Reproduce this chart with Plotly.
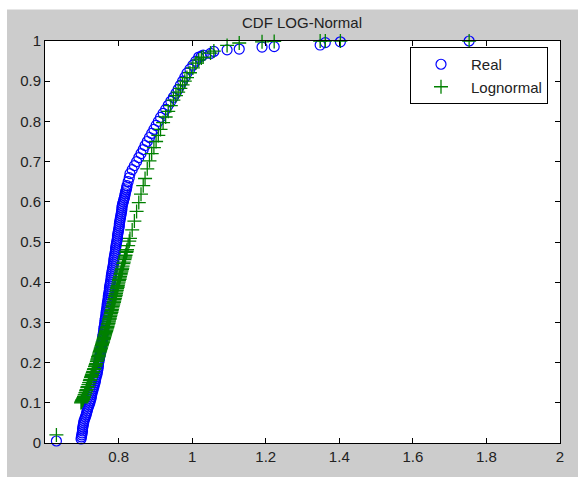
import plotly.graph_objects as go

# Sorted sample values (x) shared by both series
sample_x = [
    0.631,
    0.698, 0.699, 0.700, 0.701, 0.702, 0.702, 0.703, 0.704, 0.705, 0.706,
    0.708, 0.710, 0.712, 0.713, 0.715, 0.716, 0.718, 0.720, 0.722, 0.723,
    0.725, 0.726, 0.727, 0.728, 0.730, 0.731, 0.733, 0.734, 0.736, 0.737,
    0.738, 0.739, 0.741, 0.742, 0.743, 0.744, 0.745, 0.745, 0.746, 0.747,
    0.748, 0.749, 0.750, 0.751, 0.752, 0.752, 0.753, 0.754, 0.755, 0.756,
    0.757, 0.757, 0.758, 0.759, 0.760, 0.760, 0.761, 0.762, 0.763, 0.763,
    0.764, 0.765, 0.766, 0.766, 0.767, 0.768, 0.769, 0.769, 0.770, 0.771,
    0.772, 0.772, 0.773, 0.774, 0.775, 0.775, 0.776, 0.777, 0.778, 0.779,
    0.780, 0.780, 0.781, 0.782, 0.783, 0.784, 0.785, 0.786, 0.787, 0.787,
    0.788, 0.789, 0.790, 0.791, 0.792, 0.792, 0.793, 0.794, 0.795, 0.796,
    0.797, 0.797, 0.798, 0.799, 0.800, 0.801, 0.802, 0.802, 0.803, 0.804,
    0.805, 0.806, 0.807, 0.808, 0.809, 0.809, 0.810, 0.811, 0.813, 0.814,
    0.816, 0.817, 0.818, 0.819, 0.821, 0.822, 0.823,
    0.826, 0.829, 0.831, 0.837, 0.843, 0.849, 0.855, 0.861, 0.867, 0.872,
    0.878, 0.884, 0.890, 0.896, 0.902, 0.908, 0.914, 0.921, 0.928, 0.935,
    0.942, 0.949, 0.956, 0.962, 0.968, 0.974, 0.980, 0.986, 0.994, 1.002,
    1.010, 1.018,
    1.025, 1.030, 1.050, 1.059, 1.095, 1.128, 1.190, 1.223, 1.348, 1.362,
    1.403, 1.753,
]

# Empirical CDF ("Real")
real_cdf = [
    0.005,
    0.010, 0.015, 0.020, 0.025, 0.030, 0.035, 0.040, 0.045, 0.050, 0.055,
    0.060, 0.065, 0.070, 0.075, 0.080, 0.085, 0.090, 0.095, 0.100, 0.105,
    0.110, 0.115, 0.120, 0.125, 0.130, 0.135, 0.140, 0.145, 0.150, 0.155,
    0.160, 0.165, 0.170, 0.175, 0.180, 0.185, 0.190, 0.195, 0.200, 0.205,
    0.210, 0.215, 0.220, 0.225, 0.230, 0.235, 0.240, 0.245, 0.250, 0.255,
    0.260, 0.265, 0.270, 0.275, 0.280, 0.285, 0.290, 0.295, 0.300, 0.305,
    0.310, 0.315, 0.320, 0.325, 0.330, 0.335, 0.340, 0.345, 0.350, 0.355,
    0.360, 0.365, 0.370, 0.375, 0.380, 0.385, 0.390, 0.395, 0.400, 0.405,
    0.410, 0.415, 0.420, 0.425, 0.430, 0.435, 0.440, 0.445, 0.450, 0.455,
    0.460, 0.465, 0.470, 0.475, 0.480, 0.485, 0.490, 0.495, 0.500, 0.505,
    0.510, 0.515, 0.520, 0.525, 0.530, 0.535, 0.540, 0.545, 0.550, 0.555,
    0.560, 0.565, 0.570, 0.575, 0.580, 0.585, 0.590, 0.595, 0.600, 0.605,
    0.610, 0.615, 0.620, 0.625, 0.630, 0.635, 0.640,
    0.650, 0.660, 0.670, 0.680, 0.690, 0.700, 0.710, 0.720, 0.730, 0.740,
    0.750, 0.760, 0.770, 0.780, 0.790, 0.800, 0.810, 0.820, 0.830, 0.840,
    0.850, 0.860, 0.870, 0.880, 0.890, 0.900, 0.910, 0.920, 0.930, 0.940,
    0.950, 0.960,
    0.962, 0.965, 0.969, 0.974, 0.978, 0.980, 0.985, 0.986, 0.990, 0.996,
    0.998, 1.000,
]

# Fitted lognormal CDF evaluated at the same x
lognormal_cdf = [
    0.020,
    0.100, 0.102, 0.104, 0.105, 0.107, 0.107, 0.109, 0.111, 0.113, 0.116,
    0.120, 0.125, 0.130, 0.133, 0.138, 0.140, 0.145, 0.150, 0.155, 0.158,
    0.163, 0.165, 0.168, 0.171, 0.175, 0.178, 0.183, 0.185, 0.190, 0.192,
    0.195, 0.198, 0.203, 0.206, 0.209, 0.212, 0.215, 0.215, 0.218, 0.221,
    0.224, 0.227, 0.230, 0.233, 0.236, 0.236, 0.239, 0.242, 0.245, 0.248,
    0.251, 0.251, 0.254, 0.257, 0.260, 0.260, 0.263, 0.266, 0.269, 0.269,
    0.272, 0.275, 0.278, 0.278, 0.281, 0.284, 0.287, 0.287, 0.290, 0.294,
    0.297, 0.297, 0.301, 0.304, 0.308, 0.308, 0.311, 0.315, 0.318, 0.322,
    0.325, 0.325, 0.329, 0.332, 0.336, 0.340, 0.343, 0.346, 0.350, 0.350,
    0.353, 0.357, 0.360, 0.364, 0.368, 0.368, 0.372, 0.376, 0.380, 0.384,
    0.388, 0.388, 0.392, 0.396, 0.400, 0.404, 0.407, 0.407, 0.411, 0.414,
    0.418, 0.421, 0.425, 0.428, 0.432, 0.432, 0.435, 0.440, 0.446, 0.450,
    0.456, 0.460, 0.463, 0.467, 0.474, 0.477, 0.481,
    0.491, 0.502, 0.509, 0.530, 0.552, 0.576, 0.598, 0.619, 0.640, 0.658,
    0.682, 0.702, 0.720, 0.735, 0.750, 0.765, 0.780, 0.797, 0.811, 0.825,
    0.839, 0.853, 0.864, 0.873, 0.882, 0.891, 0.900, 0.909, 0.921, 0.933,
    0.945, 0.953,
    0.958, 0.960, 0.970, 0.975, 0.989, 0.995, 0.998, 0.999, 1.000, 1.000,
    1.000, 1.000,
]

x_ticks = [0.8, 1.0, 1.2, 1.4, 1.6, 1.8, 2.0]
x_tick_text = ["0.8", "1", "1.2", "1.4", "1.6", "1.8", "2"]
y_ticks = [0, 0.1, 0.2, 0.3, 0.4, 0.5, 0.6, 0.7, 0.8, 0.9, 1.0]
y_tick_text = ["0", "0.1", "0.2", "0.3", "0.4", "0.5", "0.6", "0.7", "0.8", "0.9", "1"]

FONT = "Liberation Sans, Arial, sans-serif"

fig = go.Figure()
fig.add_trace(go.Scatter(
    x=sample_x, y=real_cdf, mode="markers", name="Real", cliponaxis=False,
    marker=dict(symbol="circle-open", size=10, color="#0000ff", line=dict(width=1.2, color="#0000ff")),
))
fig.add_trace(go.Scatter(
    x=sample_x, y=lognormal_cdf, mode="markers", name="Lognormal", cliponaxis=False,
    marker=dict(symbol="cross-thin-open", size=10, color="#008000", line=dict(width=1.3, color="#008000")),
))

W, H = 578, 477
L, R, T, B = 45, 18, 41, 34
pw, ph = W - L - R, H - T - B

def px_x(p):
    return (p - L) / pw

def px_y(p):
    return (H - B - p) / ph

fig.update_layout(
    width=W, height=H,
    margin=dict(l=L, r=R, t=T, b=B),
    paper_bgcolor="#cccccc",
    plot_bgcolor="#ffffff",
    font=dict(family=FONT, size=15, color="#222222"),
    title=dict(text="CDF LOG-Normal", x=302 / W, xanchor="center",
               y=1 - 23 / H, yanchor="middle", font=dict(size=15, color="#222222")),
    showlegend=True,
    legend=dict(
        x=px_x(548), y=px_y(47), xanchor="right", yanchor="top",
        bgcolor="#ffffff", bordercolor="#000000", borderwidth=1,
        font=dict(size=15, color="#222222"), itemwidth=50,
    ),
    xaxis=dict(
        range=[0.6, 2.0], tickvals=x_ticks, ticktext=x_tick_text,
        showgrid=False, zeroline=False, showline=True, linecolor="#000000", linewidth=1,
        mirror="ticks", ticks="inside", ticklen=5, tickcolor="#000000",
    ),
    yaxis=dict(
        range=[0, 1.0], tickvals=y_ticks, ticktext=y_tick_text,
        showgrid=False, zeroline=False, showline=True, linecolor="#000000", linewidth=1,
        mirror="ticks", ticks="inside", ticklen=5, tickcolor="#000000",
    ),
    shapes=[
        dict(type="rect", xref="paper", yref="paper", x0=-0.3, x1=1.3,
             y0=px_y(9.5), y1=1.3, fillcolor="#ffffff", line=dict(width=0), layer="above"),
        dict(type="rect", xref="paper", yref="paper", x0=-0.3, x1=px_x(7),
             y0=-0.3, y1=1.3, fillcolor="#ffffff", line=dict(width=0), layer="above"),
    ],
)

fig.write_html("out.html")
